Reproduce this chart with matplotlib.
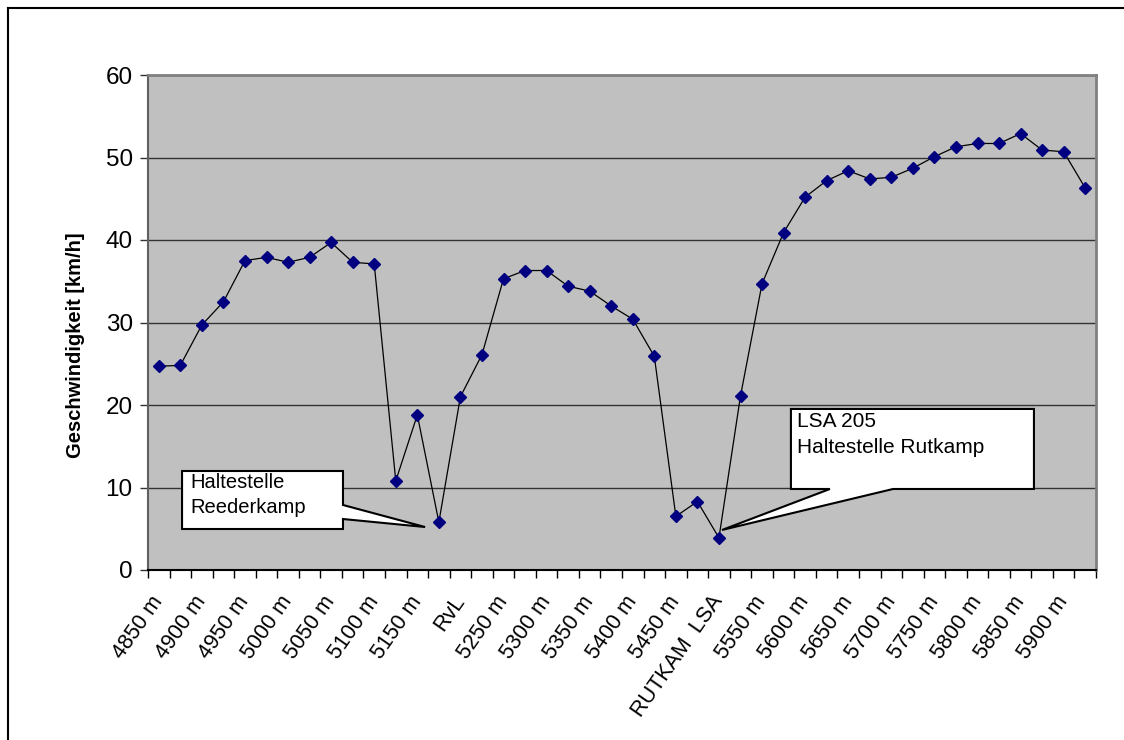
import matplotlib
matplotlib.use("Agg")
import matplotlib.pyplot as plt
from matplotlib.patches import Polygon
from matplotlib.lines import Line2D

plt.rcParams['font.family'] = ['Liberation Sans', 'DejaVu Sans']

# Messpunkte alle 25 m (4850 m ... 5925 m)
positions = list(range(4850, 5926, 25))
speed = [24.7, 24.8, 29.7, 32.5, 37.5, 37.9, 37.3, 37.9, 39.7, 37.3,
         37.1, 10.8, 18.8, 5.8, 21.0, 26.1, 35.3, 36.3, 36.3, 34.4,
         33.8, 32.0, 30.4, 25.9, 6.5, 8.3, 3.9, 21.1, 34.7, 40.9,
         45.2, 47.2, 48.4, 47.4, 47.6, 48.7, 50.1, 51.3, 51.7, 51.7,
         52.9, 50.9, 50.7, 46.3]
special_labels = {5200: 'RvL', 5500: 'RUTKAM  LSA'}

labels = []
for p in positions:
    labels.append(special_labels.get(p, f'{p} m'))

fig = plt.figure(figsize=(11.24, 7.40), dpi=100)
ax = fig.add_axes([148 / 1124, 1 - 570 / 740, (1096 - 148) / 1124, (570 - 75) / 740])
ax.set_facecolor('#C0C0C0')

x = list(range(len(speed)))
ax.plot(x, speed, color='black', linewidth=0.9, marker='D', markersize=6,
        markerfacecolor='#000080', markeredgecolor='#000080', zorder=3)

ax.set_xlim(-0.5, len(speed) - 0.5)
ax.set_ylim(0, 60)
ax.set_yticks(range(0, 61, 10))
ax.yaxis.grid(True, color='#333333', linewidth=1)
ax.set_axisbelow(True)
ax.tick_params(axis='y', labelsize=17.5, length=6, width=1, color='#333333', pad=5)

# Teilstriche zwischen den Kategorien, Beschriftung jede zweite Kategorie
ax.set_xticks([i - 0.5 for i in range(len(speed) + 1)])
ax.set_xticklabels([])
ax.tick_params(axis='x', which='major', length=6, width=1, color='black')
ax.set_xticks(x[::2], labels[::2], minor=True)
ax.tick_params(axis='x', which='minor', length=0, pad=20, labelsize=15.5)
for t in ax.get_xticklabels(minor=True):
    t.set_rotation(55)
    t.set_ha('right')
    t.set_va('center')
    t.set_rotation_mode('anchor')

ax.set_ylabel('Geschwindigkeit [km/h]', fontsize=14.5, fontweight='bold')
ax.yaxis.set_label_coords(-0.066, 0.455)

for side in ['top', 'right']:
    ax.spines[side].set_color('#808080')
    ax.spines[side].set_linewidth(2)
ax.spines['left'].set_color('#606060')
ax.spines['left'].set_linewidth(1.5)
ax.spines['bottom'].set_color('black')
ax.spines['bottom'].set_linewidth(1.5)

# Legenden-Sprechblasen
call1 = [(1.08, 12.0), (8.55, 12.0), (8.55, 7.88), (12.36, 5.21),
         (8.55, 6.18), (8.55, 4.97), (1.08, 4.97)]
ax.add_patch(Polygon(call1, closed=True, facecolor='white', edgecolor='black',
                     linewidth=1.5, zorder=4))
ax.text(1.45, 11.7, 'Haltestelle\nReederkamp', fontsize=14.5, va='top', ha='left',
        linespacing=1.4, zorder=5)

call2 = [(29.34, 19.52), (40.62, 19.52), (40.62, 9.82), (34.08, 9.82),
         (26.14, 4.85), (31.15, 9.82), (29.34, 9.82)]
ax.add_patch(Polygon(call2, closed=True, facecolor='white', edgecolor='black',
                     linewidth=1.5, zorder=4))
ax.text(29.62, 19.1, 'LSA 205\nHaltestelle Rutkamp', fontsize=15, va='top', ha='left',
        linespacing=1.45, zorder=5)

# Rahmen um das Diagramm
fig.add_artist(Line2D([8 / 1124, 1], [1 - 8 / 740, 1 - 8 / 740], color='black', linewidth=1.5))
fig.add_artist(Line2D([8 / 1124, 8 / 1124], [0, 1 - 8 / 740], color='black', linewidth=1.5))

fig.savefig('out.png', dpi=100)
